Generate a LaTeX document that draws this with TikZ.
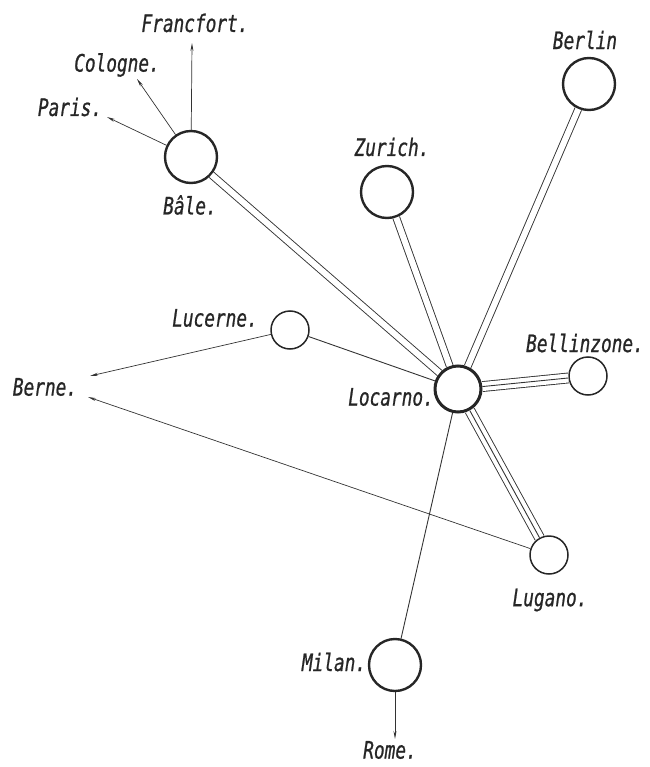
\documentclass[tikz,border=0pt]{standalone}
\usepackage{fontspec}
\newfontfamily\lab[FakeStretch=0.74,FakeBold=0.8]{DejaVu Sans Mono}
\usetikzlibrary{arrows.meta}
\begin{document}
\begin{tikzpicture}[x=1pt,y=-1pt,
  town/.style={circle,draw=black!85,inner sep=0pt,line width=2.4pt},
  small/.style={town,line width=1.5pt},
  lbl/.style={font=\lab\itshape\fontsize{24}{24}\selectfont,text=black!85,inner sep=0pt},
  wire/.style={line width=0.9pt,draw=black!80},
  dbl/.style={wire,double=white,double distance=6pt},
  tpl/.style={wire,double=white,double distance=9pt},
  arr/.style={wire,line width=0.7pt,-{Stealth[length=8pt,width=3pt]}}]
\useasboundingbox (0,0) rectangle (649,767);
% towns
\node[town,minimum size=52pt] (bale) at (191,157) {};
\node[town,minimum size=52pt] (berlin) at (589,84) {};
\node[town,minimum size=52pt] (zurich) at (387,192) {};
\node[small,minimum size=38pt] (lucerne) at (290,330) {};
\node[town,line width=3pt,minimum size=46pt] (locarno) at (458,389) {};
\node[small,minimum size=38pt] (bell) at (588,376) {};
\node[small,minimum size=38pt] (lugano) at (549,555) {};
\node[town,minimum size=52pt] (milan) at (395,665) {};
% free ends
\coordinate (ffe) at (192,43);
\coordinate (coe) at (137,79);
\coordinate (pae) at (107,117);
\coordinate (be1) at (90,376);
\coordinate (be2) at (88,397);
\coordinate (roe) at (395,739);
% labels
\node[lbl] (tfr) at (195,23) {Francfort.};
\node[lbl] (tco) at (117,65) {Cologne.};
\node[lbl] (tpa) at (70,107) {Paris.};
\node[lbl] (tba) at (190,205) {Bâle.};
\node[lbl] (tbe) at (585,40) {Berlin};
\node[lbl] (tzu) at (392,147) {Zurich.};
\node[lbl] (tlu) at (215,318) {Lucerne.};
\node[lbl] (tbn) at (45,387) {Berne.};
\node[lbl] (tlo) at (391,397) {Locarno.};
\node[lbl] (tbl) at (585,343) {Bellinzone.};
\node[lbl] (tlg) at (550,600) {Lugano.};
\node[lbl] (tmi) at (334,662) {Milan.};
\node[lbl] (tro) at (390,750) {Rome.};
% connections to Locarno
\draw[dbl] (bale) -- (locarno);
\draw[dbl] (zurich) -- (locarno);
\draw[dbl] (berlin) -- (locarno);
\draw[tpl] (bell) -- (locarno);
\draw[wire] (bell) -- (locarno);
\draw[tpl] (lugano) -- (locarno);
\draw[wire] (lugano) -- (locarno);
\draw[wire] (lucerne) -- (locarno);
\draw[wire] (milan) -- (locarno);
% outward arrows
\draw[arr] (bale) -- (ffe);
\draw[arr] (bale) -- (coe);
\draw[arr] (bale) -- (pae);
\draw[arr] (lucerne) -- (be1);
\draw[arr] (lugano) -- (be2);
\draw[arr] (milan) -- (roe);
\end{tikzpicture}
\end{document}
